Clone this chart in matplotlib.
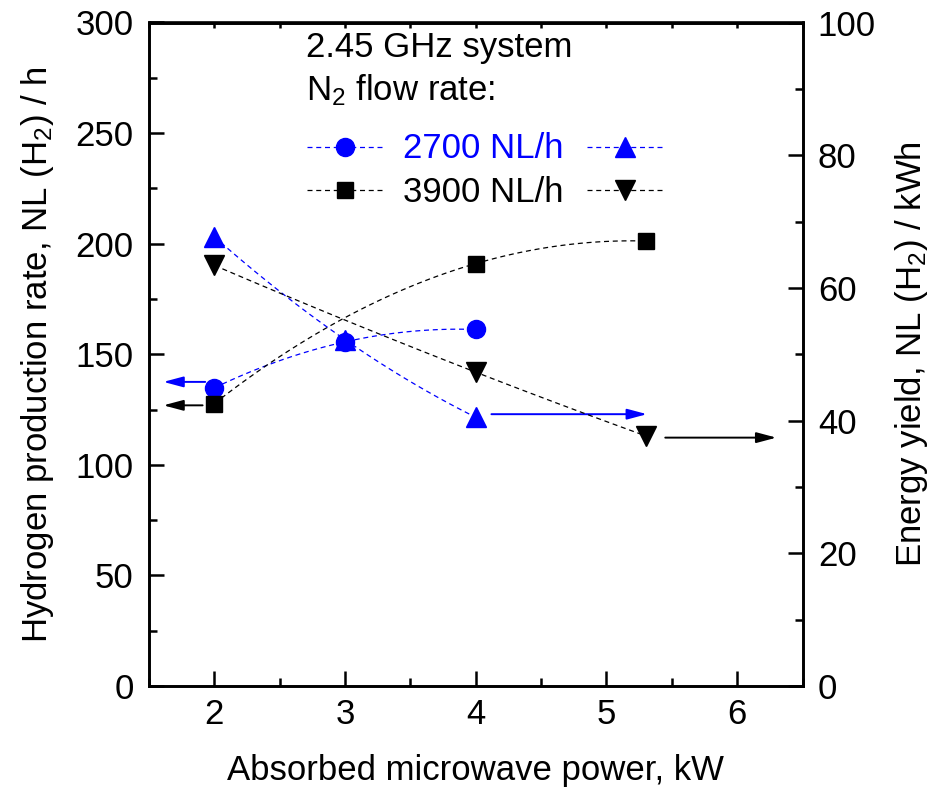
import numpy as np
import matplotlib
matplotlib.use("Agg")
import matplotlib.pyplot as plt
from matplotlib.lines import Line2D

plt.rcParams['font.family'] = ['Liberation Sans', 'DejaVu Sans']
plt.rcParams['mathtext.fontset'] = 'custom'
plt.rcParams['mathtext.rm'] = 'Liberation Sans'
plt.rcParams['mathtext.it'] = 'Liberation Sans:italic'

# --- data ---
power_2700 = [2.0, 3.0, 4.0]
rate_2700 = [134.8, 155.6, 161.2]        # NL/h, left axis
yield_2700 = [67.7, 52.2, 40.5]          # NL/kWh, right axis

power_3900 = [2.0, 4.0, 5.3]
rate_3900 = [127.7, 191.0, 201.2]
yield_3900 = [63.4, 47.3, 37.7]

# arrows pointing to the axis each series belongs to: (x_start, x_end, y on left scale)
arrows_blue = [(1.93, 1.61, 137.5), (4.12, 5.31, 122.9)]
arrows_black = [(1.91, 1.61, 126.9), (5.45, 6.30, 112.3)]

BLUE = '#0000ff'
FS = 25


def smooth(x, y):
    # quadratic through the three measured points, like the origin spline
    c = np.polyfit(x, y, 2)
    xs = np.linspace(min(x), max(x), 100)
    return xs, np.polyval(c, xs)


fig = plt.figure(figsize=(9.51, 7.89), dpi=100)
ax = fig.add_axes([149 / 951, 1 - 686 / 789, (802.5 - 149) / 951, (686 - 22.5) / 789])
ax2 = ax.twinx()

dash = dict(ls=(0, (4, 3)), lw=0.9)

# left axis series
xs, ys = smooth(power_2700, rate_2700)
ax.plot(xs, ys, color=BLUE, **dash)
ax.plot(power_2700, rate_2700, 'o', color=BLUE, ms=13, mec=BLUE)
xs, ys = smooth(power_3900, rate_3900)
ax.plot(xs, ys, color='black', **dash)
ax.plot(power_3900, rate_3900, 's', color='black', ms=11.5)

# right axis series
xs, ys = smooth(power_2700, yield_2700)
ax2.plot(xs, ys, color=BLUE, **dash)
ax2.plot(power_2700, yield_2700, '^', color=BLUE, ms=15)
xs, ys = smooth(power_3900, yield_3900)
ax2.plot(xs, ys, color='black', **dash)
ax2.plot(power_3900, yield_3900, 'v', color='black', ms=15)

for arrows, col in ((arrows_blue, BLUE), (arrows_black, 'black')):
    for x0, x1, y in arrows:
        ax.annotate('', xy=(x1, y), xytext=(x0, y),
                    arrowprops=dict(arrowstyle='-|>,head_length=1.2,head_width=0.32',
                                    color=col, lw=1.4, shrinkA=0, shrinkB=0))

ax.set_xlim(1.5, 6.5)
ax.set_ylim(0, 300)
ax2.set_ylim(0, 100)
ax.set_xticks([2, 3, 4, 5, 6])
ax.set_xticks(np.arange(1.5, 6.6, 0.5), minor=True)
ax.set_yticks(np.arange(0, 301, 50))
ax.set_yticks(np.arange(0, 301, 25), minor=True)
ax2.set_yticks(np.arange(0, 101, 20))
ax2.set_yticks(np.arange(0, 101, 10), minor=True)

for a in (ax, ax2):
    for s in a.spines.values():
        s.set_linewidth(1.9)
ax.tick_params(axis='both', which='major', direction='in', length=11, width=1.8,
               labelsize=FS, pad=11)
ax.tick_params(axis='both', which='minor', direction='in', length=6, width=1.8)
ax.tick_params(axis='x', which='major', pad=9)
ax2.tick_params(axis='y', which='major', direction='in', length=11, width=1.8,
                labelsize=FS, pad=11)
ax2.tick_params(axis='y', which='minor', direction='in', length=6, width=1.8)

# short ticks along the top edge
top = ax.secondary_xaxis('top')
top.set_xticks(np.arange(1.5, 6.6, 0.5))
top.tick_params(direction='in', length=4, width=1.8, labeltop=False)
top.spines['top'].set_linewidth(1.9)

ax.set_xlabel('Absorbed microwave power, kW', fontsize=FS, labelpad=16)
ax.set_ylabel('Hydrogen production rate, NL (H$_2$) / h', fontsize=FS, labelpad=14)
ax2.set_ylabel('Energy yield, NL (H$_2$) / kWh', fontsize=FS, labelpad=12)

# legend block
tr = ax.transAxes
ax.text(0.241, 0.9485, '2.45 GHz system', transform=tr, fontsize=FS, va='baseline', ha='left')
ax.text(0.241, 0.882, 'N$_2$ flow rate:', transform=tr, fontsize=FS, va='baseline', ha='left')
rows = [(0.8128, 0.7957, BLUE, 'o', '^', '2700 NL/h', 13),
        (0.7476, 0.730, 'black', 's', 'v', '3900 NL/h', 11.5)]
for yy, yb, col, m1, m2, lab, ms1 in rows:
    ax.add_line(Line2D([0.242, 0.358], [yy, yy], transform=tr, color=col, **dash))
    ax.add_line(Line2D([0.30], [yy], transform=tr, marker=m1, ms=ms1, color=col))
    ax.add_line(Line2D([0.670, 0.786], [yy, yy], transform=tr, color=col, **dash))
    ax.add_line(Line2D([0.728], [yy], transform=tr, marker=m2, ms=15, color=col))
    ax.text(0.388, yb, lab, transform=tr, fontsize=FS, color=col, va='baseline', ha='left')

fig.savefig('out.png', dpi=100)
